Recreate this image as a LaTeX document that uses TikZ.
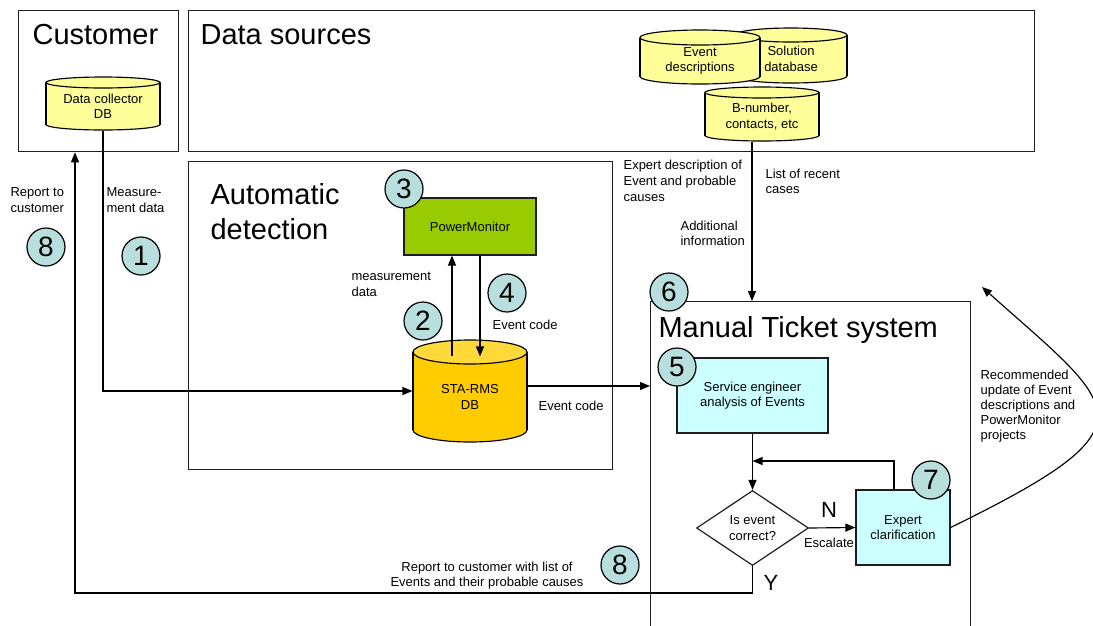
\documentclass[tikz,border=0pt]{standalone}
\usepackage{fontspec}
\setmainfont{Liberation Sans}
\usetikzlibrary{arrows.meta,shapes.geometric,calc}

\definecolor{paleyellow}{HTML}{FFFF99}
\definecolor{gold}{HTML}{FFCC00}
\definecolor{goldtop}{HTML}{FFD83A}
\definecolor{leaf}{HTML}{99CC00}
\definecolor{ice}{HTML}{CCFFFF}
\definecolor{badgefill}{HTML}{B8DEDE}
\definecolor{edge}{HTML}{1E1E1E}

% database drum: name, left, top, right, bottom, ellipse half-height, body colour, lid colour, text
\newcommand\drum[9]{%
  \pgfmathsetmacro\drumcx{(#2+#4)/2}%
  \pgfmathsetmacro\drumcy{(#3+#5)/2}%
  \pgfmathsetmacro\drumw{#4-#2}%
  \pgfmathsetmacro\drumh{#5-#3}%
  \pgfmathsetmacro\drumrx{(#4-#2)/2}%
  \pgfmathsetmacro\drumtop{#3+#6}%
  \pgfmathsetmacro\drumbot{#5-#6}%
  \pgfmathsetmacro\drumty{(#3+#6+#5)/2}%
  \fill[#7, draw=black] (\drumcx,\drumbot) ellipse [x radius=\drumrx pt, y radius=#6pt];
  \fill[#7] (#2,\drumtop) rectangle (#4,\drumbot);
  \draw (#2,\drumtop) -- (#2,\drumbot) (#4,\drumtop) -- (#4,\drumbot);
  \filldraw[fill=#8] (\drumcx,\drumtop) ellipse [x radius=\drumrx pt, y radius=#6pt];
  \node[inner sep=0, minimum width=\drumw pt, minimum height=\drumh pt] (#1) at (\drumcx,\drumcy) {};
  \node[lbl, align=center] (#1-text) at (\drumcx,\drumty) {#9};
}

\begin{document}
\begin{tikzpicture}[x=1pt, y=-1pt, line width=1.15pt,
  >={Triangle[length=10pt,width=8pt]},
  lbl/.style={font=\fontsize{13}{15.5}\selectfont, inner sep=0, align=left},
  nwlbl/.style={lbl, anchor=north west},
  areatitle/.style={font=\fontsize{29}{35}\selectfont, inner sep=0, align=left, anchor=north west},
  area/.style={draw=edge, line width=1.3pt, inner sep=0, anchor=north west},
  procbox/.style={draw=edge, line width=1.2pt, inner sep=0, align=center, font=\fontsize{13}{15.5}\selectfont},
  badge/.style={circle, draw, line width=1.2pt, fill=badgefill, minimum size=38pt, inner sep=0, font=\fontsize{28}{28}\selectfont},
  yn/.style={font=\fontsize{22}{22}\selectfont, inner sep=0}]

\useasboundingbox (0,0) rectangle (1093,625);
\clip (0,0) rectangle (1093,625);

% regions
\node[area, minimum width=160pt, minimum height=141pt] (cust) at (18,10) {};
\node[area, minimum width=846pt, minimum height=141pt] (src) at (188,10) {};
\node[area, minimum width=424pt, minimum height=308pt] (auto) at (188,161) {};
\node[area, minimum width=320pt, minimum height=340pt] (manual) at (650,301) {};

\node[areatitle] (custT) at (32,24) {Customer};
\node[areatitle] (srcT) at (200,24) {Data sources};
\node[areatitle] (autoT) at (210,183) {Automatic\\detection};
\node[areatitle] (manT) at (658,316) {Manual Ticket system};

% databases
\drum{collector}{46}{77}{160}{130}{5.5}{paleyellow}{paleyellow}{Data collector\\DB}
\drum{solution}{735}{28}{847}{83}{7}{paleyellow}{paleyellow}{Solution\\database}
\drum{events}{640}{30}{760}{84}{7.5}{paleyellow}{paleyellow}{Event\\descriptions}
\drum{bnum}{705}{87}{819}{141}{5.5}{paleyellow}{paleyellow}{B-number,\\contacts, etc}
\drum{sta}{413}{340}{527}{442}{12}{gold}{goldtop}{STA-RMS\\DB}

% process steps
\node[procbox, fill=leaf, minimum width=132pt, minimum height=57pt] (pm) at (470,226.5) {PowerMonitor};
\node[procbox, fill=ice, minimum width=151pt, minimum height=75pt] (svc) at (752.5,395.5) {Service engineer\\analysis of Events};
\node[draw=edge, line width=1.2pt, diamond, shape aspect=1.5, inner sep=0, minimum width=112pt, minimum height=75pt,
      align=center, font=\fontsize{13}{15.5}\selectfont] (dia) at (752.5,528) {Is event\\correct?};
\node[procbox, fill=ice, minimum width=94pt, minimum height=75pt] (exp) at (903,527.5) {Expert\\clarification};

% connector helper points
\coordinate (staout) at ($(sta.east)+(0,-5)$);
\coordinate (srcout) at ($(bnum.south)+(-10,0)$);
\coordinate (join) at (752.5,461);
\coordinate (fb) at ($(exp.north)+(-9,0)$);
\coordinate (ret) at (75,593);
\coordinate (upd) at (982,287);

% connectors
\draw[->] (collector.south) |- (sta.west);
\draw[->] ($(sta.north)+(-18,17)$) -- ($(pm.south)+(-18,0)$);
\draw[->] ($(pm.south)+(10,0)$) -- ($(sta.north)+(10,17)$);
\draw[->] (staout) -- (staout -| manual.west);
\draw[->] (srcout) -- (srcout |- manual.north);
\draw[->] (svc.south) -- (dia.north);
\draw[->] (dia.east) -- (exp.west);
\draw[->] (fb) |- (join);
\draw[->] (dia.south) |- (ret) -- (ret |- cust.south);
\draw[->] (exp.east) .. controls (1160,425) and (1120,410) .. (upd);

% labels
\node[nwlbl] (l1) at (10,187) {Report to\\customer};
\node[nwlbl] (l2) at (106,187) {Measure-\\ment data};
\node[nwlbl] (l3) at (351,272) {measurement\\data};
\node[nwlbl] (l4) at (492,319) {Event code};
\node[nwlbl] (l5) at (538,400) {Event code};
\node[nwlbl, font=\fontsize{13}{16}\selectfont] (l6) at (623,159) {Expert description of\\Event and probable\\causes};
\node[nwlbl] (l7) at (765,168) {List of recent\\cases};
\node[nwlbl] (l8) at (680,220) {Additional\\information};
\node[nwlbl, font=\fontsize{13}{15}\selectfont] (l9) at (980,369) {Recommended\\update of Event\\descriptions and\\PowerMonitor\\projects};
\node[lbl, anchor=north, align=center, font=\fontsize{13}{15}\selectfont] (l10) at (487,561) {Report to customer with list of\\Events and their probable causes};
\node[lbl] (l11) at (829,543) {Escalate};
\node[yn] (no) at (829,510) {N};
\node[yn] (yes) at (771,583) {Y};

% step numbers
\node[badge] (b8a) at (46,247) {8};
\node[badge] (b1) at (141,256) {1};
\node[badge] (b3) at (404,189) {3};
\node[badge] (b2) at (423,321) {2};
\node[badge] (b4) at (507,293) {4};
\node[badge] (b6) at (669,292) {6};
\node[badge] (b5) at (677,367) {5};
\node[badge] (b7) at (931,480) {7};
\node[badge] (b8b) at (620,565) {8};
\end{tikzpicture}
\end{document}
